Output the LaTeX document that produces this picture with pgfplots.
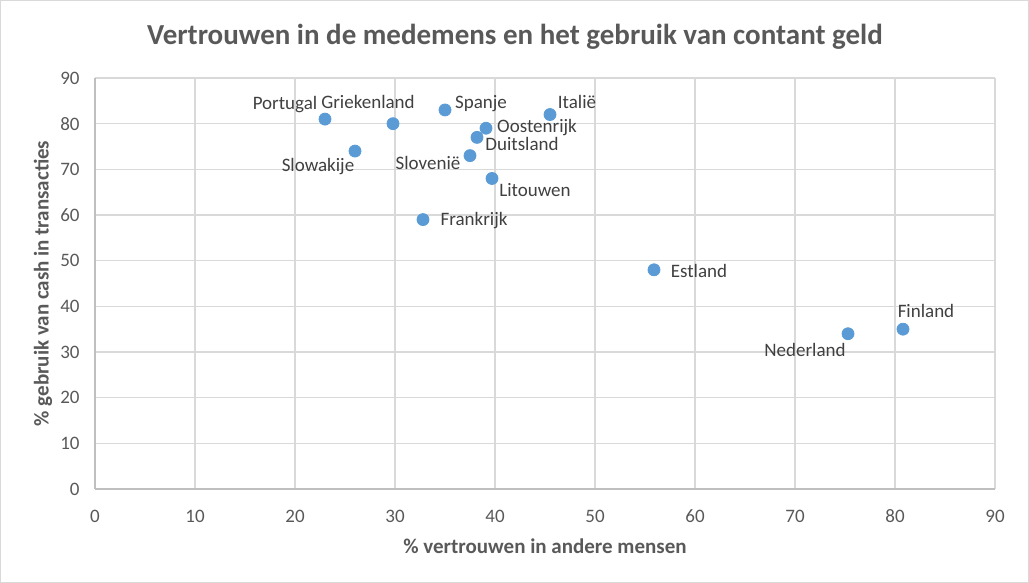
\documentclass[border=0pt]{standalone}
\usepackage{pgfplots}
\pgfplotsset{compat=1.18}
\usepackage{fontspec}
\setmainfont{Carlito}
\definecolor{dot}{HTML}{5B9BD5}
\definecolor{txt}{HTML}{595959}
\definecolor{lbl}{HTML}{404040}
\definecolor{grd}{HTML}{D9D9D9}
\definecolor{axl}{HTML}{BFBFBF}
\begin{document}
\begin{tikzpicture}
% 1 px of the reference = 0.5pt
\path[use as bounding box] (0,0) rectangle (514.5pt,-291.5pt);
\draw[grd, line width=0.6pt] (0.3pt,-0.3pt) rectangle (514.2pt,-291.2pt);
\node[font=\fontsize{14.5}{17}\selectfont\bfseries, text=txt] at (257.5pt,-18.5pt)
  {Vertrouwen in de medemens en het gebruik van contant geld};
\begin{axis}[
    at={(47.5pt,-244.5pt)}, anchor=south west,
    scale only axis, width=450pt, height=205.5pt,
    xmin=0, xmax=90, ymin=0, ymax=90,
    xtick={0,10,...,90}, ytick={0,10,...,90},
    grid=major, major grid style={grd, line width=0.6pt},
    axis line style={axl, line width=0.6pt},
    axis x line*=bottom, axis y line*=left,
    major tick length=0pt,
    tick label style={font=\fontsize{9.5}{11}\selectfont, text=txt,
      /pgf/number format/assume math mode=true},
    xticklabel style={anchor=center, yshift=-13.5pt},
    yticklabel style={anchor=east, inner sep=0pt, xshift=-7.5pt},
    xlabel={\% vertrouwen in andere mensen},
    ylabel={\% gebruik van cash in transacties},
    label style={font=\fontsize{10.5}{12}\selectfont\bfseries, text=txt},
    xlabel style={at={(0.5,0)}, anchor=center, yshift=-28.5pt},
    ylabel style={at={(0,0.5)}, anchor=center, rotate=0, yshift=26pt},
    clip=false,
]
\addplot[only marks, mark=*, mark size=3pt, mark options={fill=dot, draw=dot},
  nodes near coords, point meta=explicit symbolic,
  visualization depends on={\thisrow{dx} \as \dx},
  visualization depends on={\thisrow{dy} \as \dy},
  every node near coord/.append style={anchor=center, inner sep=0pt,
    xshift=\dx pt, yshift=\dy pt,
    font=\fontsize{9.5}{11}\selectfont, text=lbl}]
  table[x=x, y=y, meta=label] {
x    y   dx     dy    label
23.0 81  -20.0  7.5   Portugal
29.8 80  -12.5  11.0  Griekenland
35.0 83  18.0   3.0   Spanje
45.5 82  13.5   6.5   Italië
39.1 79  25.5   0.5   Oostenrijk
38.2 77  22.5   -3.5  Duitsland
37.5 73  -21.0  -3.5  Slovenië
26.0 74  -18.5  -7.5  Slowakije
39.7 68  21.5   -6.0  Litouwen
32.8 59  25.5   -0.5  Frankrijk
55.9 48  22.5   -0.5  Estland
75.3 34  -21.5  -8.0  Nederland
80.8 35  11.5   9.0   Finland
};
\end{axis}
\end{tikzpicture}
\end{document}
